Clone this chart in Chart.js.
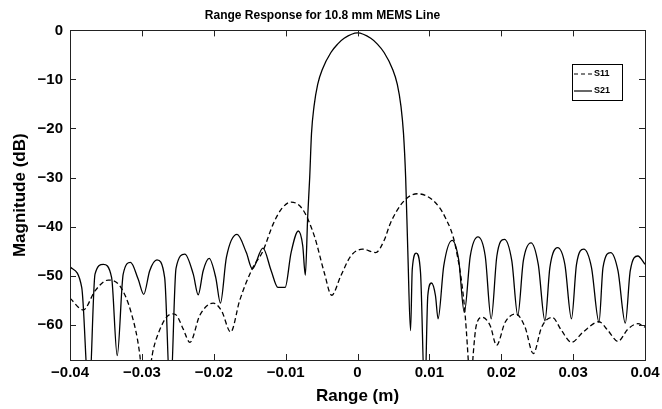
<!DOCTYPE html>
<html>
<head>
<meta charset="utf-8">
<script src="https://cdn.jsdelivr.net/npm/chart.js@4/dist/chart.umd.min.js"></script>
<style>
    html, body { margin: 0; padding: 0; background: #fff; }
    #wrap { width: 662px; height: 409px; }
</style>
</head>
<body>
<div id="wrap"><canvas id="rangeChart" width="662" height="409"></canvas></div>
<script>
// values (range in m, magnitude in dB)
var s11Range = [-0.04, -0.03814, -0.03652, -0.03468, -0.03306, -0.03144, -0.0303, -0.0297, -0.0284, -0.0279,
    -0.0266, -0.02568, -0.02517, -0.02424, -0.02332, -0.02194, -0.02008, -0.01893, -0.01764, -0.0164,
    -0.01464, -0.01316, -0.01177, -0.01062, -0.00924, -0.00762, -0.00601, -0.00462, -0.0036, -0.00231,
    -0.00093, 0.00069, 0.00253, 0.00368, 0.00461, 0.00645, 0.0083, 0.01061, 0.01223, 0.01361,
    0.01486, 0.0154, 0.01569, 0.0161, 0.01652, 0.01731, 0.01846, 0.01935, 0.02054, 0.02202,
    0.02331, 0.02446, 0.02562, 0.02709, 0.02839, 0.02977, 0.03138, 0.0336, 0.03485, 0.03624,
    0.03762, 0.039, 0.04];
var s11Mag = [-54.6, -57.0, -53.1, -50.9, -52.1, -57.8, -66, -75, -65.0, -62.5,
    -58.5, -57.8, -58.1, -60.9, -63.6, -58.1, -55.6, -57.1, -61.5, -55.1,
    -48.6, -45.0, -39.6, -36.5, -35.0, -36.5, -41.9, -49.4, -54.0, -50.0,
    -46.0, -44.6, -45.3, -42.9, -39.2, -34.8, -33.3, -34.8, -38.2, -43.9,
    -56.1, -67, -75, -66, -60.2, -58.5, -60.2, -64.2, -59.5, -57.8,
    -60.5, -65.9, -60.5, -58.5, -61.2, -63.6, -61.5, -59.4, -61.2, -63.4,
    -60.9, -59.8, -60.5];

var s21Range = [-0.04, -0.03837, -0.03735, -0.03652, -0.03537, -0.03421, -0.03343, -0.0326, -0.03158, -0.03052,
    -0.02974, -0.02891, -0.0279, -0.02683, -0.02604, -0.02525, -0.02402, -0.02285, -0.02216, -0.02147,
    -0.02064, -0.01972, -0.01907, -0.01824, -0.01676, -0.01547, -0.01464, -0.01316, -0.01201, -0.01108,
    -0.01007, -0.00924, -0.00823, -0.00762, -0.00726, -0.00693, -0.00665, -0.0064, -0.00605, -0.00554,
    -0.00485, -0.0037, -0.00277, -0.00186, 0, 0.00185, 0.00277, 0.0037, 0.00485, 0.00554,
    0.00605, 0.0064, 0.0067, 0.007, 0.00738, 0.00762,
    0.00817, 0.00877, 0.00936, 0.00978, 0.01029, 0.01085, 0.01121, 0.012, 0.01316, 0.01407,
    0.01486, 0.01569, 0.01676, 0.01777, 0.0186, 0.01939, 0.02044, 0.02147, 0.0223, 0.02307,
    0.02414, 0.02515, 0.02608, 0.02677, 0.02784, 0.02885, 0.02977, 0.03047, 0.03148, 0.03255,
    0.0336, 0.03416, 0.03522, 0.03624, 0.03726, 0.03795, 0.039, 0.04];
var s21Mag = [-48.2, -52.4, -75, -49.7, -47.7, -50.4, -66.3, -49.7, -47.3, -50.7,
    -53.8, -49.0, -46.8, -50.4, -75, -48.5, -45.6, -49.7, -53.9, -49.0,
    -46.5, -50.4, -55.6, -46.3, -41.6, -45.3, -48.6, -44.4, -49.0, -52.4,
    -52.4, -45.3, -40.9, -43.9, -49.9, -38.0, -30.0, -21.0, -15.5, -11.0,
    -7.8, -4.5, -2.8, -1.6, -0.5, -1.6, -2.8, -4.5, -7.8, -11.0,
    -15.5, -21.0, -30.0, -45.0, -61.2, -48.7,
    -45.4, -49.4, -75, -54.1, -51.5, -54.1, -58.8, -48.0, -42.8, -46.7,
    -57.5, -46.0, -42.1, -46.0, -58.8, -46.0, -42.6, -47.0, -58.1, -47.0,
    -43.3, -47.7, -59.2, -48.3, -44.3, -47.7, -58.8, -47.7, -44.6, -48.3,
    -59.5, -48.3, -45.3, -49.0, -59.7, -49.0, -46.0, -47.7];

var xTicks = [-0.04, -0.03, -0.02, -0.01, 0, 0.01, 0.02, 0.03, 0.04];
var yTicks = [0, -10, -20, -30, -40, -50, -60];
var seriesNames = ['S11', 'S21'];

var toPoints = function (xs, ys) {
    return xs.map(function (x, i) { return { x: x, y: ys[i] }; });
};

// tick text with a real minus sign, like the original plot
var fmtTick = function (v) {
    if (v === 0) return '0';
    var s = String(+v.toFixed(2));
    return s.replace('-', '\u2212');
};

// box round the plot with inward ticks on all four sides
const frameAndTicks = {
    id: 'frameAndTicks',
    afterDraw: function (chart) {
        var ctx = chart.ctx;
        var a = chart.chartArea;
        var xs = chart.scales.x, ys = chart.scales.y;
        var len = 6;
        ctx.save();
        ctx.strokeStyle = '#222';
        ctx.lineWidth = 1;
        ctx.beginPath();
        xTicks.forEach(function (v) {
            var px = Math.round(xs.getPixelForValue(v)) + 0.5;
            ctx.moveTo(px, a.bottom); ctx.lineTo(px, a.bottom - len);
            ctx.moveTo(px, a.top); ctx.lineTo(px, a.top + len);
        });
        yTicks.forEach(function (v) {
            var py = Math.round(ys.getPixelForValue(v)) + 0.5;
            ctx.moveTo(a.left, py); ctx.lineTo(a.left + len, py);
            ctx.moveTo(a.right, py); ctx.lineTo(a.right - len, py);
        });
        ctx.stroke();
        ctx.strokeRect(Math.round(a.left) + 0.5, Math.round(a.top) + 0.5,
            Math.round(a.right - a.left), Math.round(a.bottom - a.top));
        ctx.restore();
    }
};

// legend box in the upper right corner of the plot
const boxLegend = {
    id: 'boxLegend',
    afterDraw: function (chart) {
        var ctx = chart.ctx;
        var bx = 572, by = 64, bw = 50, bh = 36;
        ctx.save();
        ctx.fillStyle = '#fff';
        ctx.fillRect(bx, by, bw, bh);
        ctx.strokeStyle = '#000';
        ctx.lineWidth = 1;
        ctx.strokeRect(bx + 0.5, by + 0.5, bw, bh);
        ctx.font = 'bold 9px "Liberation Sans", Arial, sans-serif';
        ctx.textBaseline = 'middle';
        ctx.textAlign = 'left';
        ctx.fillStyle = '#000';
        var rows = [by + 10, by + 27];
        chart.data.datasets.forEach(function (ds, i) {
            ctx.beginPath();
            ctx.setLineDash(ds.borderDash ? [4, 3] : []);
            ctx.lineWidth = 1.2;
            ctx.moveTo(bx + 2, rows[i]);
            ctx.lineTo(bx + 20, rows[i]);
            ctx.stroke();
            ctx.setLineDash([]);
            ctx.fillText(ds.label, bx + 22, rows[i]);
        });
        ctx.restore();
    }
};

var tickFont = { family: '"Liberation Sans", Arial, sans-serif', size: 15, weight: 'bold' };
var titleFont = { family: '"Liberation Sans", Arial, sans-serif', size: 17, weight: 'bold' };

new Chart(document.getElementById('rangeChart'), {
    type: 'line',
    data: {
        datasets: [{
            label: seriesNames[0],
            data: toPoints(s11Range, s11Mag),
            borderColor: '#000',
            borderWidth: 1.3,
            borderDash: [5, 3],
            pointRadius: 0,
            cubicInterpolationMode: 'monotone',
            fill: false
        }, {
            label: seriesNames[1],
            data: toPoints(s21Range, s21Mag),
            borderColor: '#000',
            borderWidth: 1.3,
            pointRadius: 0,
            cubicInterpolationMode: 'monotone',
            fill: false
        }]
    },
    options: {
        responsive: false,
        animation: false,
        layout: { padding: { left: 0, right: 17, top: 0, bottom: 0 } },
        plugins: {
            legend: { display: false },
            tooltip: { enabled: false },
            title: {
                display: true,
                text: 'Range Response for 10.8 mm MEMS Line',
                color: '#000',
                font: { family: '"Liberation Sans", Arial, sans-serif', size: 12, weight: 'bold' },
                padding: { top: 8, bottom: 8 }
            }
        },
        scales: {
            x: {
                type: 'linear',
                min: -0.04,
                max: 0.04,
                grid: { display: false, drawTicks: false },
                border: { display: false },
                afterBuildTicks: function (scale) {
                    scale.ticks = xTicks.map(function (v) { return { value: v }; });
                },
                afterFit: function (scale) {
                    scale.height = 49;
                    scale.paddingLeft = 0;
                    scale.paddingRight = 0;
                },
                ticks: {
                    color: '#000',
                    font: tickFont,
                    padding: 4,
                    maxRotation: 0,
                    callback: fmtTick
                },
                title: {
                    display: true,
                    text: 'Range (m)',
                    color: '#000',
                    font: titleFont,
                    padding: { top: 0, bottom: 2 }
                }
            },
            y: {
                type: 'linear',
                min: -67.2,
                max: 0,
                grid: { display: false, drawTicks: false },
                border: { display: false },
                afterBuildTicks: function (scale) {
                    scale.ticks = yTicks.map(function (v) { return { value: v }; });
                },
                afterFit: function (scale) {
                    scale.width = 70;
                    scale.paddingTop = 0;
                    scale.paddingBottom = 0;
                },
                ticks: {
                    color: '#000',
                    font: tickFont,
                    padding: 7,
                    callback: fmtTick
                },
                title: {
                    display: true,
                    text: 'Magnitude (dB)',
                    color: '#000',
                    font: titleFont,
                    padding: { top: 10, bottom: 0 }
                }
            }
        }
    },
    plugins: [frameAndTicks, boxLegend]
});
</script>
</body>
</html>
